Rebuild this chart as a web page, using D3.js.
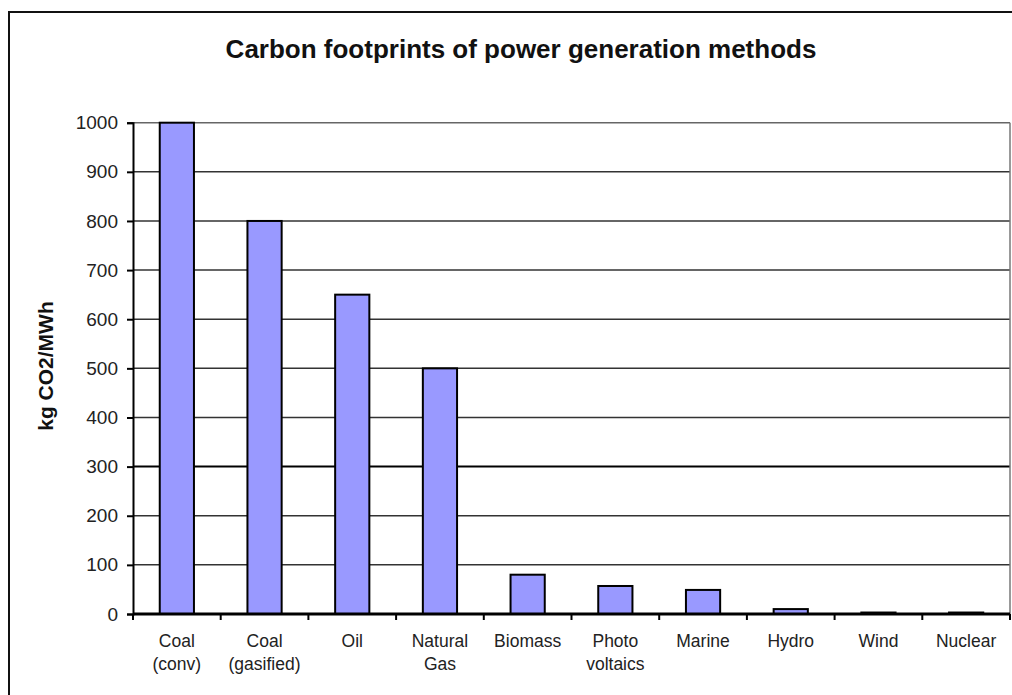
<!DOCTYPE html>
<html>
<head>
<meta charset="utf-8">
<script src="https://d3js.org/d3.v7.min.js"></script>
<style>
  body { margin: 0; background: #fff; }
  svg { display: block; }
  text { font-family: "Liberation Sans", Arial, sans-serif; }
</style>
</head>
<body>
<svg id="chart"></svg>
<script>
// chart data
var categories = [
    ["Coal", "(conv)"], ["Coal", "(gasified)"], ["Oil"], ["Natural", "Gas"], ["Biomass"],
    ["Photo", "voltaics"], ["Marine"], ["Hydro"], ["Wind"], ["Nuclear"]
];
var values = [1000, 800, 650, 500, 80, 57, 49, 10, 3, 3];
var yTicks = [0, 100, 200, 300, 400, 500, 600, 700, 800, 900, 1000];

var width = 1012, height = 695;
var margin = {left: 133, right: 2, top: 122.7, bottom: 81};

var svg = d3.select('#chart')
    .attr('width', width)
    .attr('height', height);

// outer frame
svg.append('rect')
    .attr('x', 9).attr('y', 12)
    .attr('width', 1020).attr('height', 700)
    .attr('fill', 'none')
    .attr('stroke', '#111')
    .attr('stroke-width', 2);

// title
svg.append('text')
    .attr('x', 521).attr('y', 58)
    .attr('text-anchor', 'middle')
    .style('font-size', '26px')
    .style('font-weight', 'bold')
    .style('fill', '#111')
    .text('Carbon footprints of power generation methods');

var x = d3.scaleBand()
    .domain(d3.range(categories.length))
    .range([margin.left, width - margin.right])
    .paddingInner(0.61)
    .paddingOuter(0.305);

var y = d3.scaleLinear()
    .domain([0, 1000])
    .range([height - margin.bottom, margin.top]);

// grid lines
svg.selectAll('.grid')
    .data(yTicks.filter(d => d > 0))
    .enter().append('line')
    .attr('class', 'grid')
    .attr('x1', margin.left)
    .attr('x2', width - margin.right)
    .attr('y1', d => y(d))
    .attr('y2', d => y(d))
    .style('stroke', d => d === 300 ? '#000' : (d === 1000 ? '#666' : '#333'))
    .style('stroke-width', d => d === 300 ? 2 : 1.5);

// right plot border
svg.append('line')
    .attr('x1', width - margin.right).attr('x2', width - margin.right)
    .attr('y1', margin.top).attr('y2', y(0))
    .style('stroke', '#777')
    .style('stroke-width', 1.5);

// bars
svg.selectAll('.bar')
    .data(values)
    .enter().append('rect')
    .attr('class', 'bar')
    .attr('x', (d, i) => x(i))
    .attr('width', x.bandwidth())
    .attr('y', d => y(d))
    .attr('height', d => y(0) - y(d))
    .style('fill', '#9999ff')
    .style('stroke', '#000')
    .style('stroke-width', 2);

// y axis
var yAxis = svg.append('g')
    .attr('transform', 'translate(' + margin.left + ',0)')
    .call(d3.axisLeft(y).tickValues(yTicks).tickFormat(d3.format('d')).tickSize(6).tickPadding(9));
yAxis.select('.domain').style('stroke', '#000').style('stroke-width', 2);
yAxis.selectAll('.tick line').style('stroke', '#000').style('stroke-width', 2);
yAxis.selectAll('.tick text')
    .style('font-size', '19px')
    .style('fill', '#222')
    .style('font-family', '"Liberation Sans", Arial, sans-serif');

// x axis: ticks at category boundaries
var step = x.step();
var bounds = d3.range(categories.length + 1).map(i => margin.left + i * step);
svg.selectAll('.xtick')
    .data(bounds)
    .enter().append('line')
    .attr('class', 'xtick')
    .attr('x1', d => d).attr('x2', d => d)
    .attr('y1', y(0)).attr('y2', y(0) + 6)
    .style('stroke', '#000')
    .style('stroke-width', 2);
svg.append('line')
    .attr('x1', margin.left).attr('x2', width - margin.right)
    .attr('y1', y(0)).attr('y2', y(0))
    .style('stroke', '#000')
    .style('stroke-width', 3);

// category labels
var labels = svg.selectAll('.xlabel')
    .data(categories)
    .enter().append('text')
    .attr('class', 'xlabel')
    .attr('text-anchor', 'middle')
    .style('font-size', '17.5px')
    .style('fill', '#222');
labels.each(function (d, i) {
    var t = d3.select(this);
    d.forEach(function (line, j) {
        t.append('tspan')
            .attr('x', x(i) + x.bandwidth() / 2)
            .attr('y', 647 + j * 23)
            .text(line);
    });
});

// y axis title
svg.append('text')
    .attr('transform', 'translate(53,366) rotate(-90)')
    .attr('text-anchor', 'middle')
    .style('font-size', '21px')
    .style('font-weight', 'bold')
    .style('fill', '#111')
    .text('kg CO2/MWh');
</script>
</body>
</html>
